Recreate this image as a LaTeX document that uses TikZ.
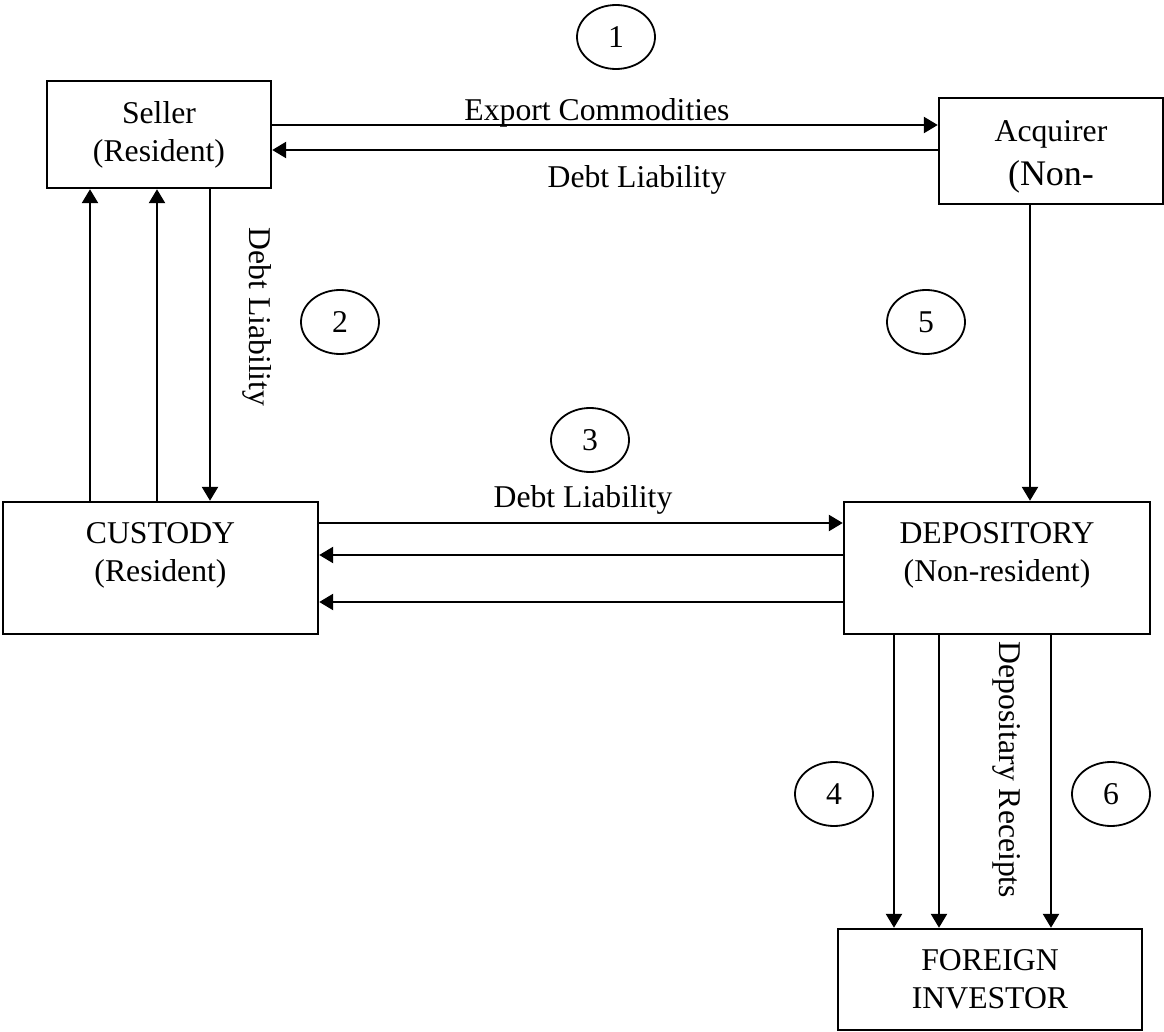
\documentclass[tikz,border=0pt]{standalone}
\usepackage{fontspec}
\setmainfont{Liberation Serif}
\usetikzlibrary{arrows.meta,shapes.geometric}
\begin{document}
\begin{tikzpicture}[x=0.5pt,y=-0.5pt,
  every node/.style={font=\fontsize{15.85}{19}\selectfont},
  box/.style={draw,line width=1.2pt,rectangle,align=center,inner sep=0pt},
  num/.style={draw,line width=0.9pt,ellipse,minimum width=39pt,minimum height=32pt,inner sep=0pt},
  conn/.style={line width=1.2pt},
  arr/.style={conn,-{Triangle[length=7pt,width=8pt]}},
  lbl/.style={inner sep=0pt}]
\path[use as bounding box] (0,0) rectangle (1164,1032);
% boxes
\node[box,minimum width=112pt,minimum height=53.5pt] (seller) at (159,134.5) {Seller\\(Resident)};
\node[box,minimum width=112pt,minimum height=53pt] (acq) at (1051,151) {\strut\\[-16pt]Acquirer\\[3pt]{\fontsize{18}{19}\selectfont (Non-}};
\node[box,minimum width=157.5pt,minimum height=66pt] (cust) at (160.5,568) {CUSTODY\\(Resident)\\[-9pt] \strut};
\node[box,minimum width=153pt,minimum height=66pt] (dep) at (997,568) {DEPOSITORY\\(Non-resident)\\[-9pt] \strut};
\node[box,minimum width=152pt,minimum height=50.5pt] (inv) at (990,979.5) {FOREIGN\\INVESTOR};
% numbered ellipses
\node[num] (n1) at (616,37) {1};
\node[num] (n2) at (340,322) {2};
\node[num] (n3) at (590,440) {3};
\node[num] (n4) at (834,794) {4};
\node[num] (n5) at (926,322) {5};
\node[num] (n6) at (1111,794) {6};
% seller <-> acquirer
\draw[arr] (seller.east |- 0,125) -- (acq.west |- 0,125);
\draw[arr] (acq.west |- 0,150) -- (seller.east |- 0,150);
\node[lbl,anchor=base] (lexp) at (597,121) {Export Commodities};
\node[lbl] (ldebt1) at (637,180) {Debt Liability};
% seller <-> custody
\draw[arr] (cust.north -| 90,0) -- (seller.south -| 90,0);
\draw[arr] (cust.north -| 157,0) -- (seller.south -| 157,0);
\draw[arr] (seller.south -| 210,0) -- (cust.north -| 210,0);
\node[lbl,rotate=-90] (ldebt2) at (257,317) {Debt Liability};
% acquirer -> depository
\draw[arr] (acq.south -| 1030,0) -- (dep.north -| 1030,0);
% custody <-> depository
\draw[arr] (cust.east |- 0,523) -- (dep.west |- 0,523);
\draw[arr] (dep.west |- 0,555) -- (cust.east |- 0,555);
\draw[arr] (dep.west |- 0,602) -- (cust.east |- 0,602);
\node[lbl] (ldebt3) at (583,500) {Debt Liability};
% depository -> investor
\draw[arr] (dep.south -| 894,0) -- (inv.north -| 894,0);
\draw[arr] (dep.south -| 939,0) -- (inv.north -| 939,0);
\draw[arr] (dep.south -| 1051,0) -- (inv.north -| 1051,0);
\node[lbl,rotate=-90] (ldr) at (1007,770) {Depositary Receipts};
\end{tikzpicture}
\end{document}
